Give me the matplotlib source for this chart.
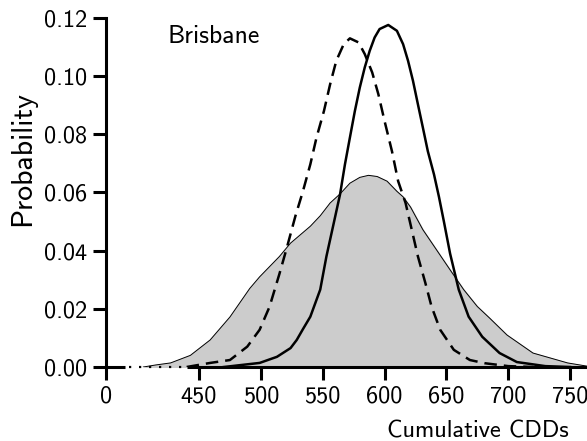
import numpy as np
import matplotlib.pyplot as plt

plt.rcParams["font.family"] = "cmss10"
plt.rcParams["axes.formatter.use_mathtext"] = True

# observed distribution (grey area)
obs_x = [405, 415, 427, 443, 459, 475, 491, 499, 507, 515, 524, 532, 540, 548,
         556, 564, 572, 580, 587, 594, 602, 610, 615, 621, 631, 642, 653, 664,
         675, 685, 699, 720, 748, 765]
obs_y = [0.0, 0.0007, 0.0014, 0.004, 0.0093, 0.0172, 0.027, 0.031, 0.0345, 0.038,
         0.0426, 0.0455, 0.0484, 0.052, 0.0564, 0.0595, 0.0632, 0.0652, 0.0659,
         0.0655, 0.0639, 0.0604, 0.0585, 0.055, 0.0472, 0.0403, 0.0334, 0.0266,
         0.0208, 0.0168, 0.011, 0.0048, 0.0014, 0.0002]

# dashed model
dash_x = [440, 459, 475, 489, 499, 507, 515, 521, 528, 534, 540, 545, 551, 556,
          561, 567, 572, 579, 584, 590, 595, 600, 606, 611, 617, 622, 627, 633,
          638, 645, 656, 669, 681, 700, 720]
dash_y = [0.0, 0.0014, 0.0024, 0.007, 0.0128, 0.0207, 0.032, 0.041, 0.052, 0.0604,
          0.0697, 0.0789, 0.088, 0.0972, 0.1053, 0.111, 0.113, 0.1116, 0.1076,
          0.1013, 0.0938, 0.0846, 0.0742, 0.0639, 0.0564, 0.0472, 0.038, 0.0289,
          0.0208, 0.0128, 0.0059, 0.0024, 0.0013, 0.0003, 0.0]

# solid model
sol_x = [470, 499, 513, 524, 529, 534, 540, 548, 553, 559, 564, 568, 572, 576,
         580, 584, 588, 592, 596, 603, 610, 615, 619, 623, 627, 631, 635, 640,
         644, 648, 653, 660, 668, 679, 693, 707, 730, 750]
sol_y = [0.0, 0.0014, 0.0035, 0.0065, 0.0093, 0.013, 0.0173, 0.0266, 0.038, 0.0496,
         0.0593, 0.0697, 0.0789, 0.088, 0.0961, 0.103, 0.1087, 0.1133, 0.1162,
         0.1176, 0.1156, 0.111, 0.1053, 0.0984, 0.0903, 0.0823, 0.0742, 0.0662,
         0.0585, 0.05, 0.039, 0.0266, 0.0173, 0.0104, 0.0048, 0.0017, 0.0003, 0.0]

xtick_pos = [375, 450, 500, 550, 600, 650, 700, 750]
xtick_lab = ["0", "450", "500", "550", "600", "650", "700", "750"]
ytick_pos = [0.0, 0.02, 0.04, 0.06, 0.08, 0.10, 0.12]

fig = plt.figure(figsize=(5.87, 4.41), dpi=100)
ax = fig.add_axes([0.1806, 0.1678, 0.8194, 0.7914])

ax.fill_between(obs_x, obs_y, 0, color="#cccccc", zorder=1)
ax.plot(obs_x, obs_y, color="black", linewidth=0.7, zorder=2)
ax.plot(dash_x, dash_y, color="black", linewidth=1.8, dashes=(5.0, 2.8), zorder=3)
ax.plot(sol_x, sol_y, color="black", linewidth=1.8, zorder=3)

ax.set_xlim(374.8, 763.7)
ax.set_ylim(0, 0.12)

for s in ["top", "right", "bottom"]:
    ax.spines[s].set_visible(False)
ax.spines["left"].set_linewidth(2.2)

# broken x axis: solid, dotted gap, solid
ax.plot([374.8, 390], [0, 0], color="black", linewidth=2.2, clip_on=False,
        solid_capstyle="butt", zorder=4)
ax.plot([393, 440], [0, 0], color="black", linewidth=1.6, linestyle=(0, (1, 3.5)),
        clip_on=False, zorder=4)
ax.plot([440, 763.7], [0, 0], color="black", linewidth=2.2, clip_on=False,
        solid_capstyle="butt", zorder=4)

ax.set_xticks(xtick_pos)
ax.set_xticklabels(xtick_lab)
ax.set_yticks(ytick_pos)
ax.set_yticklabels([f"{v:.2f}" for v in ytick_pos])
ax.tick_params(direction="out", length=9.5, width=2.2, labelsize=17.5, pad=4)

fig.text(23 / 587, 0.6406, "Probability", fontsize=21.5, rotation=90,
         ha="center", va="center")
fig.text(569 / 587, 1 - 437 / 441, "Cumulative CDDs", fontsize=17.5,
         ha="right", va="baseline")
fig.text(168 / 587, 1 - 43 / 441, "Brisbane", fontsize=18.5,
         ha="left", va="baseline")

fig.savefig("out.png", dpi=100)
